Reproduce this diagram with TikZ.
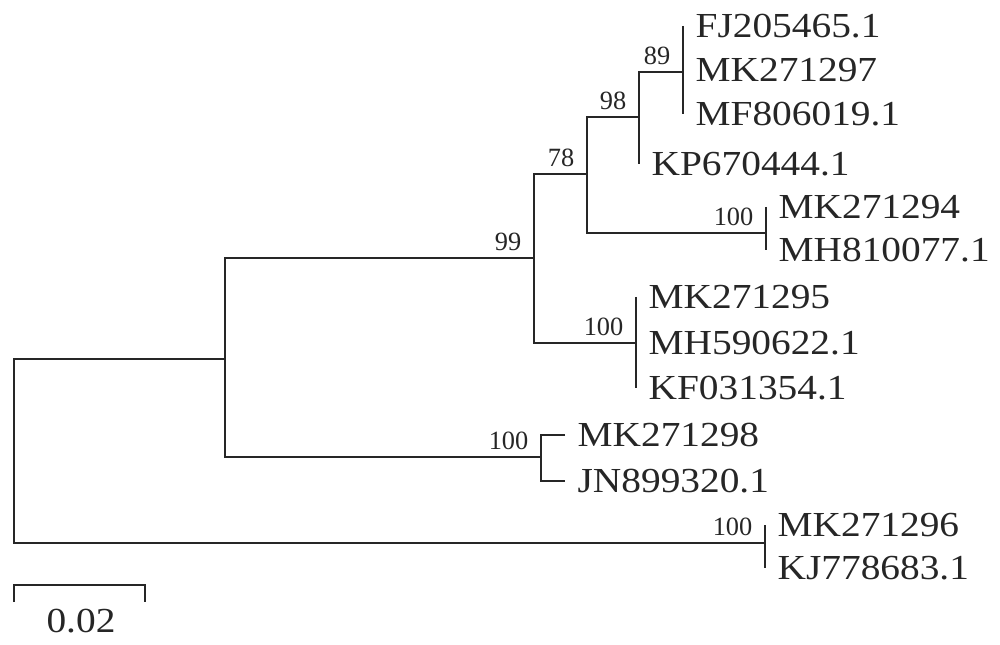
\documentclass[tikz,border=0pt]{standalone}
\usepackage{fontspec}
\setmainfont{Liberation Serif}
\newfontfamily\leaffont{Liberation Serif}[FakeStretch=1.12]
\usetikzlibrary{positioning}
\begin{document}
\begin{tikzpicture}[x=0.2mm,y=-0.2mm,
  br/.style={line width=1.6pt,draw=black!85},
  leaf/.style={anchor=west,inner xsep=7pt,inner ysep=0pt,font=\leaffont\fontsize{20}{24}\selectfont,text=black!85},
  boot/.style={anchor=south east,inner sep=0pt,xshift=-7pt,yshift=4pt,font=\fontsize{15}{18}\selectfont,text=black!85}
]
  \useasboundingbox (0,0) rectangle (1000,645);
  % inner nodes
  \coordinate (root)  at (14,451);
  \coordinate (nA)    at (225,359);
  \coordinate (n99)   at (534,258);
  \coordinate (n78)   at (587,174);
  \coordinate (n98)   at (639,117);
  \coordinate (n89)   at (683,72);
  \coordinate (nMH81) at (766,233);
  \coordinate (nMH59) at (636,343);
  \coordinate (nJN)   at (541,457);
  \coordinate (nKJ)   at (765,543);
  % leaves
  \node[leaf](fj)   at (683,26)  {FJ205465.1};
  \node[leaf](mk97) at (683,70)  {MK271297};
  \node[leaf](mf)   at (683,114) {MF806019.1};
  \node[leaf](kp)   at (639,164) {KP670444.1};
  \node[leaf](mk94) at (766,207) {MK271294};
  \node[leaf](mh81) at (766,250) {MH810077.1};
  \node[leaf](mk95) at (636,297) {MK271295};
  \node[leaf](mh59) at (636,343) {MH590622.1};
  \node[leaf](kf)   at (636,388) {KF031354.1};
  \node[leaf](mk98) at (565,435) {MK271298};
  \node[leaf](jn)   at (565,481) {JN899320.1};
  \node[leaf](mk96) at (765,525) {MK271296};
  \node[leaf](kj)   at (765,568) {KJ778683.1};
  % branches
  \draw[br](n89 |- fj) -- (n89 |- mf);
  \draw[br](n89) -| (n98 |- kp);
  \draw[br](n98) -| (n78) |- (nMH81);
  \draw[br](nMH81 |- mk94) -- (nMH81 |- mh81);
  \draw[br](n78) -| (n99) |- (nMH59);
  \draw[br](nMH59 |- mk95) -- (nMH59 |- kf);
  \draw[br](n99) -| (nA) |- (nJN);
  \draw[br](mk98.west) -| (nJN) |- (jn.west);
  \draw[br](nA) -| (root) |- (nKJ);
  \draw[br](nKJ |- mk96) -- (nKJ |- kj);
  % bootstrap values
  \node[boot](b89) at (n89)   {89};
  \node[boot](b98) at (n98)   {98};
  \node[boot](b78) at (n78)   {78};
  \node[boot](b99) at (n99)   {99};
  \node[boot](b81) at (nMH81) {100};
  \node[boot](b59) at (nMH59) {100};
  \node[boot](bJN) at (nJN)   {100};
  \node[boot](bKJ) at (nKJ)   {100};
  % scale bar
  \coordinate (sa) at (14,602);
  \coordinate (sb) at (145,602);
  \draw[br](sa) -- ++(0,-17) -| (sb);
  \node[font=\leaffont\fontsize{20}{24}\selectfont,text=black!85](sc) at (81,621) {0.02};
\end{tikzpicture}
\end{document}
